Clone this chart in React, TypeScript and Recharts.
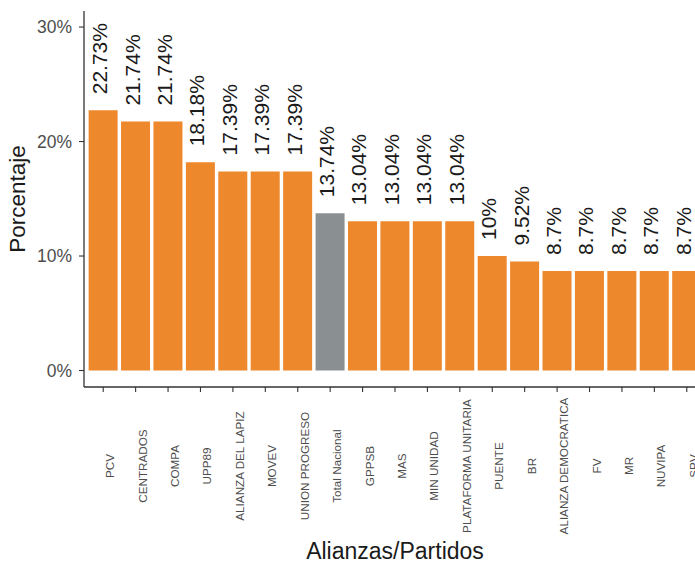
import React from 'react';
import { Bar, BarChart, Cell, LabelList, XAxis, YAxis } from 'recharts';

const CATEGORIES = [
  'PCV',
  'CENTRADOS',
  'COMPA',
  'UPP89',
  'ALIANZA DEL LAPIZ',
  'MOVEV',
  'UNION PROGRESO',
  'Total Nacional',
  'GPPSB',
  'MAS',
  'MIN UNIDAD',
  'PLATAFORMA UNITARIA',
  'PUENTE',
  'BR',
  'ALIANZA DEMOCRATICA',
  'FV',
  'MR',
  'NUVIPA',
  'SPV',
];
const VALUES = [
  22.73, 21.74, 21.74, 18.18, 17.39, 17.39, 17.39, 13.74, 13.04, 13.04, 13.04, 13.04, 10, 9.52, 8.7,
  8.7, 8.7, 8.7, 8.7,
];
const HIGHLIGHT = 'Total Nacional';
const Y_TICKS = [0, 10, 20, 30];

const ORANGE = '#EE882C';
const GREY = '#8A9092';
const AXIS = '#333333';
const TICK_TEXT = '#4D4D4D';
const FONT = '"Liberation Sans", Arial, sans-serif';

const data = CATEGORIES.map((name, i) => ({ name, value: VALUES[i] }));

function XTick({ x, y, payload }: any) {
  const tx = x + 11;
  const ty = y + 72;
  return (
    <text
      x={tx}
      y={ty}
      transform={`rotate(-90, ${tx}, ${ty})`}
      textAnchor="middle"
      fontSize={11.7}
      fontFamily={FONT}
      fill={TICK_TEXT}
    >
      {payload.value}
    </text>
  );
}

function ValueLabel({ x, y, width, value }: any) {
  const tx = Number(x) + Number(width) / 2 + 4;
  const ty = Number(y) - 16;
  return (
    <text
      x={tx}
      y={ty}
      transform={`rotate(-90, ${tx}, ${ty})`}
      textAnchor="start"
      fontSize={21}
      fontFamily={FONT}
      fill="#1a1a1a"
    >
      {`${value}%`}
    </text>
  );
}

function YTitle(props: any) {
  const vb = props.viewBox || { x: 0, y: 11, width: 84, height: 376 };
  const tx = vb.x + 25;
  const ty = vb.y + vb.height / 2;
  return (
    <text
      x={tx}
      y={ty}
      transform={`rotate(-90, ${tx}, ${ty})`}
      textAnchor="middle"
      fontSize={22.5}
      fontFamily={FONT}
      fill="#1a1a1a"
    >
      Porcentaje
    </text>
  );
}

function XTitle(props: any) {
  const vb = props.viewBox || { x: 84, y: 387, width: 622, height: 176 };
  return (
    <text
      x={vb.x + vb.width / 2}
      y={vb.y + vb.height - 4}
      textAnchor="middle"
      fontSize={23}
      fontFamily={FONT}
      fill="#1a1a1a"
    >
      Alianzas/Partidos
    </text>
  );
}

export default function App() {
  return (
    <div
      style={{
        position: 'absolute',
        left: 0,
        top: 0,
        width: 695,
        height: 563,
        overflow: 'hidden',
        background: '#fff',
      }}
    >
      <BarChart
        width={706}
        height={563}
        data={data}
        margin={{ top: 11, right: 0, bottom: 0, left: 0 }}
        barCategoryGap="5%"
      >
        <XAxis
          dataKey="name"
          interval={0}
          height={176}
          tickSize={5}
          tickMargin={2}
          padding={{ left: 3, right: 3 }}
          axisLine={{ stroke: AXIS, strokeWidth: 1.3 }}
          tickLine={{ stroke: AXIS, strokeWidth: 1.1 }}
          tick={<XTick />}
          label={<XTitle />}
        />
        <YAxis
          width={84}
          type="number"
          domain={[-1.44, 31.4]}
          allowDataOverflow
          ticks={Y_TICKS}
          tickFormatter={(v) => `${v}%`}
          tickSize={5}
          tickMargin={7}
          axisLine={{ stroke: AXIS, strokeWidth: 1.3 }}
          tickLine={{ stroke: AXIS, strokeWidth: 1.1 }}
          tick={{ fontSize: 17.5, fill: TICK_TEXT, fontFamily: FONT }}
          label={<YTitle />}
        />
        <Bar dataKey="value" isAnimationActive={false}>
          {data.map((d) => (
            <Cell key={d.name} fill={d.name === HIGHLIGHT ? GREY : ORANGE} />
          ))}
          <LabelList dataKey="value" content={<ValueLabel />} />
        </Bar>
      </BarChart>
    </div>
  );
}
